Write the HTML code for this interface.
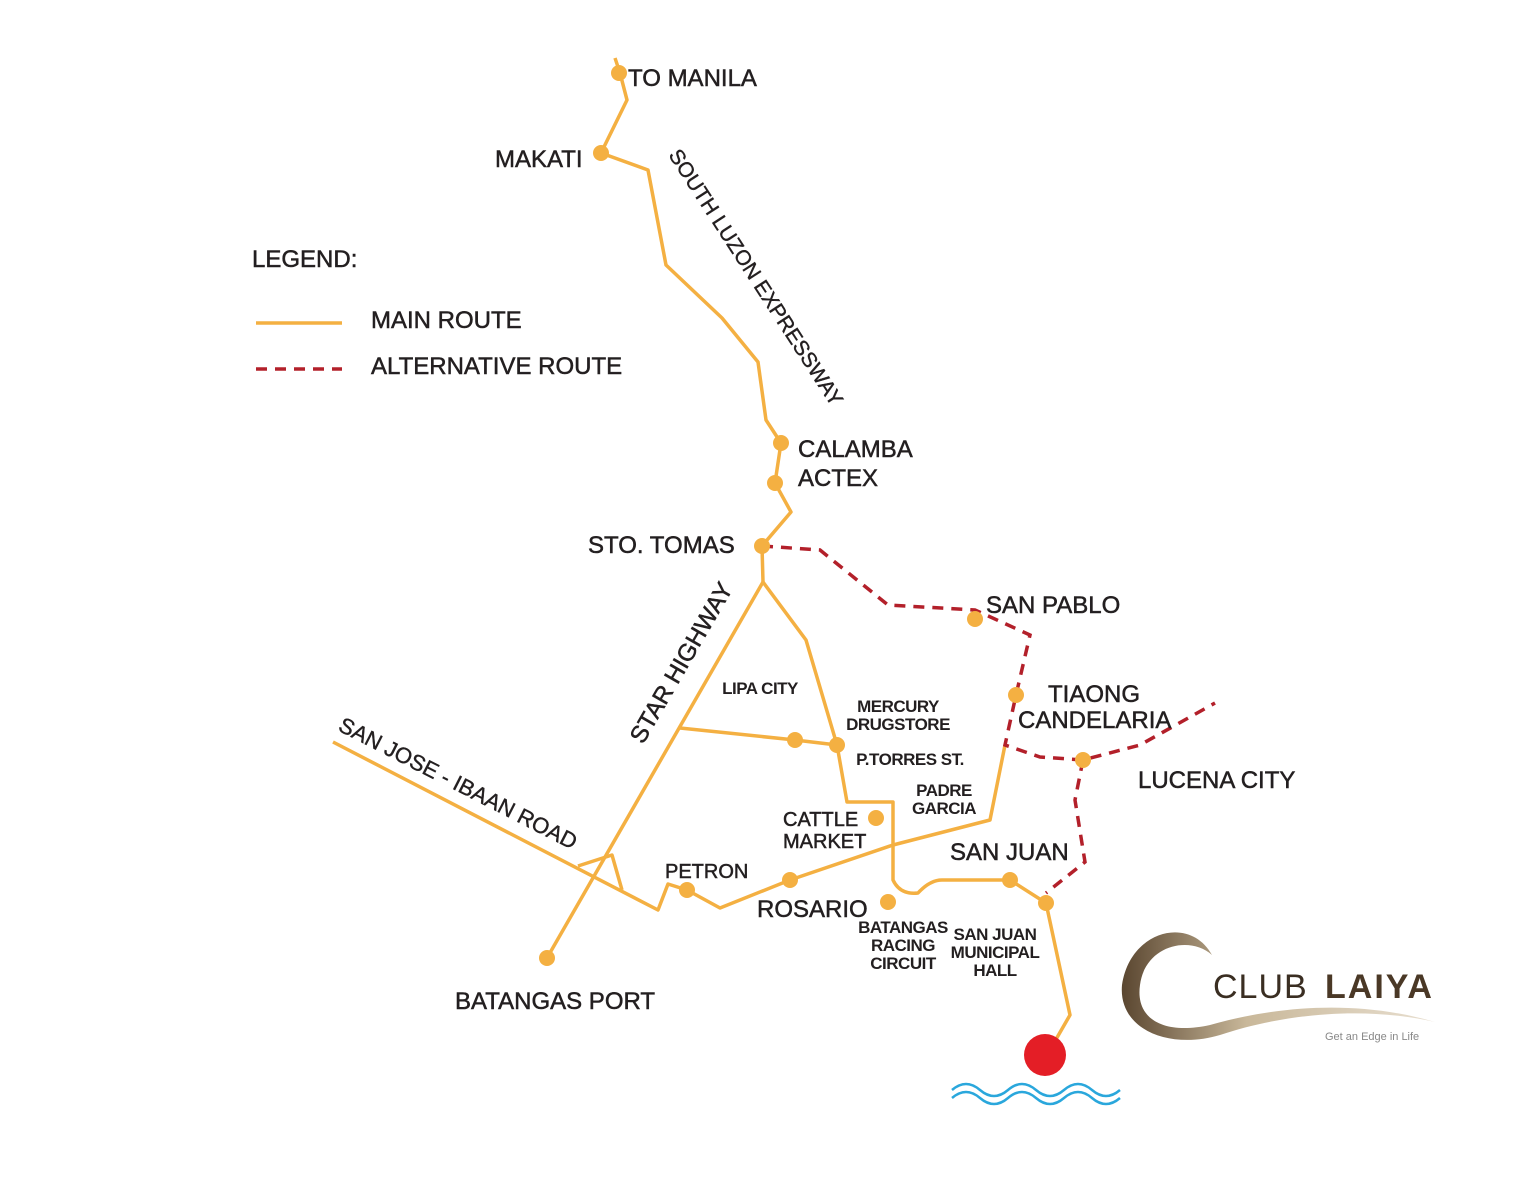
<!DOCTYPE html><html><head><style>body{margin:0;background:#fff}svg{display:block}text{font-family:"Liberation Sans",sans-serif;fill:#231f20}</style></head><body>
<svg width="1536" height="1187" viewBox="0 0 1536 1187">
<defs><linearGradient id="g" x1="0" x2="1"><stop offset="0" stop-color="#5a4630"/><stop offset=".4" stop-color="#c9b89a"/><stop offset="1" stop-color="#e8dfd0"/></linearGradient></defs>
<g fill="none" stroke="#f4b042" stroke-width="3.5" stroke-linejoin="round">
<polyline points="615,58 620,73 627,100 601,153 648,170 666,265 722,318 758,362 766,420 781,443 775,483 791,512 762,546 763,582"/>
<polyline points="763,582 547,958"/>
<path d="M763,582 L806,640 837,745 847,802 893,802 893,880 Q900,895 918,893 Q930,880 942,880 L1010,880 1046,903 1070,1015 1047,1055"/>
<polyline points="680,728 795,740 837,745"/>
<polyline points="333,742 658,910 668,884 687,890 720,908 790,880 893,845 990,820 1005,745"/>
<polyline points="578,866 612,855 622,890"/>
</g>
<g fill="none" stroke="#b3202a" stroke-width="3.5" stroke-dasharray="11,8">
<polyline points="762,546 820,550 888,605 975,610 1030,635 1016,695 1005,745 1040,757 1083,760 1140,745 1215,703"/>
<polyline points="1083,760 1075,800 1085,862 1046,893"/>
<line x1="256" y1="369" x2="342" y2="369"/>
</g>
<line x1="256" y1="323" x2="342" y2="323" stroke="#f4b042" stroke-width="3.5"/>
<g fill="#f4b042">
<circle cx="619" cy="73" r="8"/><circle cx="601" cy="153" r="8"/><circle cx="781" cy="443" r="8"/><circle cx="775" cy="483" r="8"/><circle cx="762" cy="546" r="8"/><circle cx="975" cy="619" r="8"/><circle cx="1016" cy="695" r="8"/><circle cx="1083" cy="760" r="8"/><circle cx="795" cy="740" r="8"/><circle cx="837" cy="745" r="8"/><circle cx="876" cy="818" r="8"/><circle cx="687" cy="890" r="8"/><circle cx="790" cy="880" r="8"/><circle cx="888" cy="902" r="8"/><circle cx="1010" cy="880" r="8"/><circle cx="1046" cy="903" r="8"/><circle cx="547" cy="958" r="8"/>
</g>
<circle cx="1045" cy="1055" r="21" fill="#e41e26"/>
<g fill="none" stroke="#2aa7dc" stroke-width="2.5">
<path d="M952,1090 q14,-12 28,0 t28,0 t28,0 t28,0 t28,0 t28,0"/>
<path d="M952,1098 q14,-12 28,0 t28,0 t28,0 t28,0 t28,0 t28,0"/>
</g>
<g font-size="24" stroke="#231f20" stroke-width="0.5">
<text x="628" y="86">TO MANILA</text><text x="495" y="167">MAKATI</text>
<text x="798" y="457">CALAMBA</text><text x="798" y="486">ACTEX</text>
<text x="588" y="553">STO. TOMAS</text><text x="986" y="613">SAN PABLO</text>
<text x="1048" y="702">TIAONG</text><text x="1018" y="728">CANDELARIA</text>
<text x="1138" y="788">LUCENA CITY</text><text x="950" y="860">SAN JUAN</text>
<text x="757" y="917">ROSARIO</text><text x="455" y="1009">BATANGAS PORT</text>
<text x="252" y="267">LEGEND:</text><text x="371" y="328">MAIN ROUTE</text><text x="371" y="374">ALTERNATIVE ROUTE</text>
</g>
<g font-size="20" stroke="#231f20" stroke-width="0.5"><text x="665" y="878">PETRON</text><text x="783" y="826">CATTLE</text><text x="783" y="848">MARKET</text></g>
<g font-size="17" text-anchor="middle" font-weight="bold" letter-spacing="-0.5">
<text x="760" y="694">LIPA CITY</text><text x="898" y="712">MERCURY</text><text x="898" y="730">DRUGSTORE</text>
<text x="910" y="765">P.TORRES ST.</text><text x="944" y="796">PADRE</text><text x="944" y="814">GARCIA</text>
<text x="903" y="933">BATANGAS</text><text x="903" y="951">RACING</text><text x="903" y="969">CIRCUIT</text>
<text x="995" y="940">SAN JUAN</text><text x="995" y="958">MUNICIPAL</text><text x="995" y="976">HALL</text>
</g>
<text font-size="21" transform="translate(668,155) rotate(57)" stroke="#231f20" stroke-width="0.4">SOUTH LUZON EXPRESSWAY</text>
<text font-size="24" transform="translate(643,745) rotate(-60)" stroke="#231f20" stroke-width="0.5">STAR HIGHWAY</text>
<text font-size="22" transform="translate(337,730) rotate(27)" stroke="#231f20" stroke-width="0.4">SAN JOSE - IBAAN ROAD</text>
<path d="M1212,955 C1190,915 1130,930 1122,985 C1118,1030 1170,1050 1220,1035 C1280,1015 1360,1005 1435,1022 C1360,1000 1280,1005 1210,1025 C1165,1035 1135,1020 1140,985 C1145,945 1190,935 1212,955 Z" fill="url(#g)"/>
<text x="1213" y="998" font-size="34" style="fill:#3a2e22;font-weight:300" letter-spacing="1">CLUB</text>
<text x="1325" y="998" font-size="34" font-weight="bold" style="fill:#4a3826" letter-spacing="2">LAIYA</text>
<text x="1325" y="1040" font-size="11" style="fill:#888">Get an Edge in Life</text>
</svg></body></html>
